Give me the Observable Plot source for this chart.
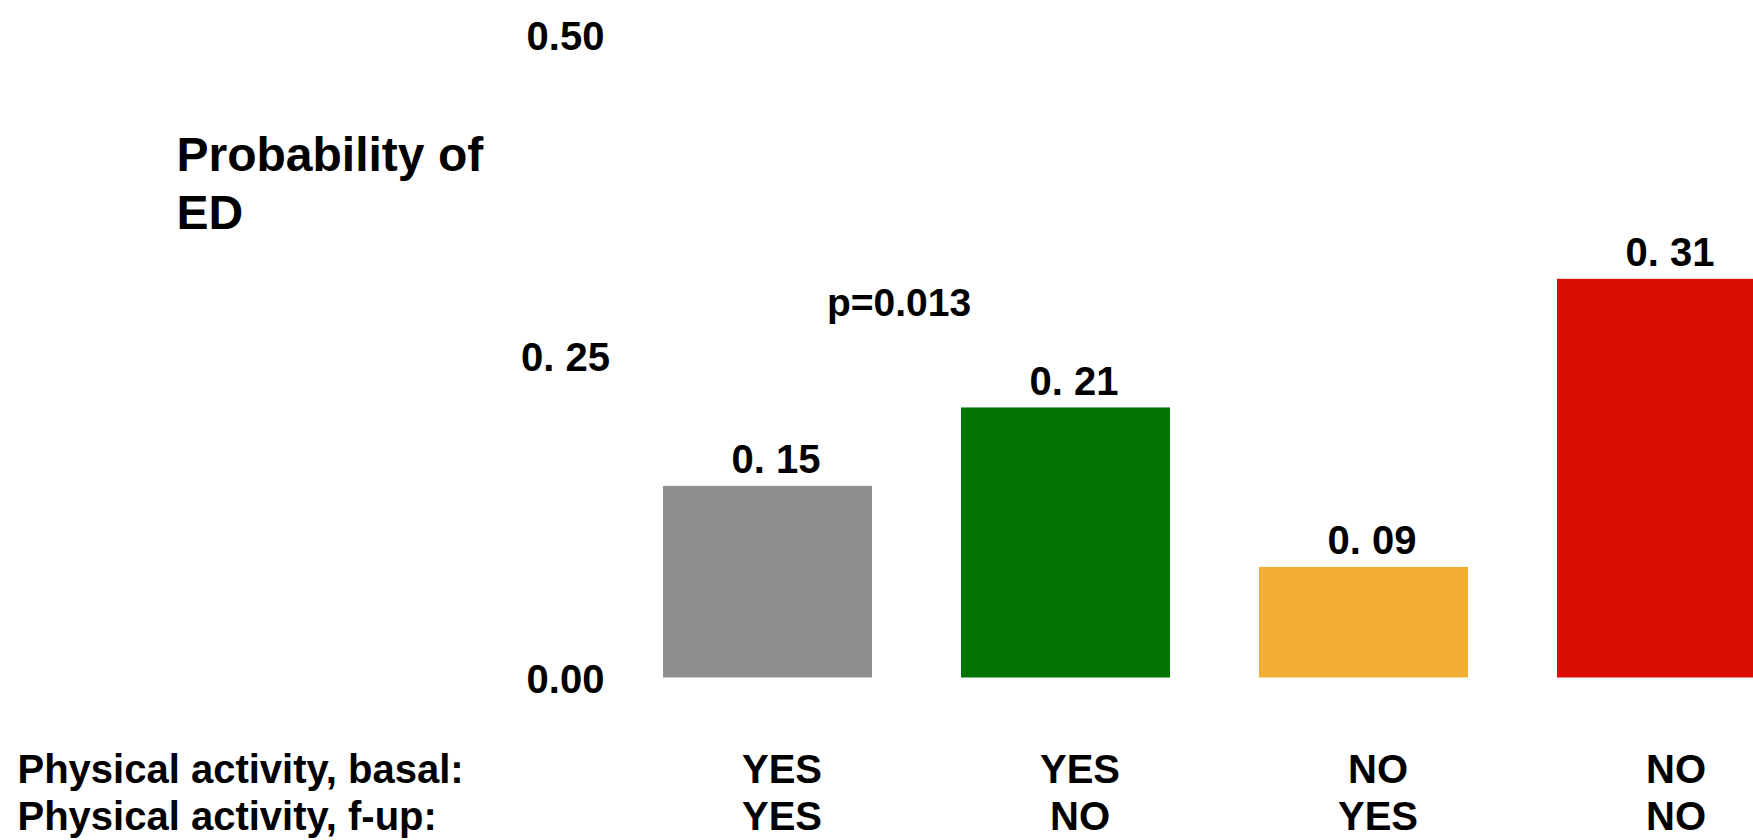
<!DOCTYPE html>
<html>
<head>
<meta charset="utf-8">
<script src="https://cdn.jsdelivr.net/npm/d3@7"></script>
<script src="https://cdn.jsdelivr.net/npm/@observablehq/plot@0.6"></script>
<style>
  html, body { margin: 0; padding: 0; background: #fff; overflow: hidden; }
  #chart svg { overflow: hidden; display: block; }
</style>
</head>
<body>
<div id="chart"></div>
<script>
// ---- data ----
const categories = ["YES/YES", "YES/NO", "NO/YES", "NO/NO"];
const basal = ["YES", "YES", "NO", "NO"];
const followUp = ["YES", "NO", "YES", "NO"];
const values = [0.149, 0.21, 0.086, 0.31];
const valueLabels = ["0. 15", "0. 21", "0. 09", "0. 31"];
const barColors = ["#8f8f8f", "#007300", "#f3af34", "#da0e03"];
const yTicks = [0, 0.25, 0.5];
const yTickLabels = ["0.00", "0. 25", "0.50"];
const yTitle = "Probability of\nED";
const rowTitles = ["Physical activity, basal:", "Physical activity, f-up:"];
const pValueText = "p=0.013";

const rows = categories.map((c, i) => ({cat: c, value: values[i], label: valueLabels[i], basal: basal[i], fup: followUp[i]}));
const ticks = yTicks.map((t, i) => ({t, label: yTickLabels[i]}));

const W = 1753, H = 840;
const font = "'Liberation Sans', Arial, sans-serif";

const chart = Plot.plot({
  width: W,
  height: H,
  marginTop: 0,
  marginLeft: 0,
  marginRight: 0,
  marginBottom: 162.5,
  style: {fontFamily: font, background: "#fff", overflow: "hidden"},
  x: {type: "band", domain: categories, range: [618, 1810], paddingInner: 0.3, paddingOuter: 0.15, axis: null},
  y: {domain: [0, 0.5], range: [677.5, 34.5], axis: null},
  color: {domain: categories, range: barColors},
  marks: [
    Plot.barY(rows, {x: "cat", y: "value", fill: "cat"}),
    Plot.text(rows, {x: "cat", y: "value", text: "label", lineAnchor: "bottom", dy: -13, dx: 8,
      fontSize: 40, fontWeight: "bold", fill: "black"}),
    Plot.text(ticks, {y: "t", text: "label", frameAnchor: "left", dx: 565, textAnchor: "middle",
      lineAnchor: "middle", dy: 2, fontSize: 40, fontWeight: "bold", fill: "black"}),
    Plot.text([yTitle], {frameAnchor: "top-left", dx: 176, dy: 130, textAnchor: "start", lineAnchor: "top",
      lineHeight: 1.2, fontSize: 48, fontWeight: "bold", fill: "black"}),
    Plot.text([pValueText], {x: () => categories[0], y: () => 0.29, dx: 131, dy: -2, lineAnchor: "middle",
      fontSize: 39, fontWeight: "bold", fill: "black"}),
    Plot.text(rows, {x: "cat", text: "basal", frameAnchor: "bottom", dy: 92.5, dx: 14, lineAnchor: "middle",
      fontSize: 40, fontWeight: "bold", fill: "black"}),
    Plot.text(rows, {x: "cat", text: "fup", frameAnchor: "bottom", dy: 139, dx: 14, lineAnchor: "middle",
      fontSize: 40, fontWeight: "bold", fill: "black"}),
    Plot.text([rowTitles[0]], {frameAnchor: "bottom-left", dx: 17, dy: 92.5, textAnchor: "start", lineAnchor: "middle",
      fontSize: 40, fontWeight: "bold", fill: "black"}),
    Plot.text([rowTitles[1]], {frameAnchor: "bottom-left", dx: 17, dy: 139, textAnchor: "start", lineAnchor: "middle",
      fontSize: 40, fontWeight: "bold", fill: "black"})
  ]
});
document.getElementById("chart").appendChild(chart);
</script>
</body>
</html>
